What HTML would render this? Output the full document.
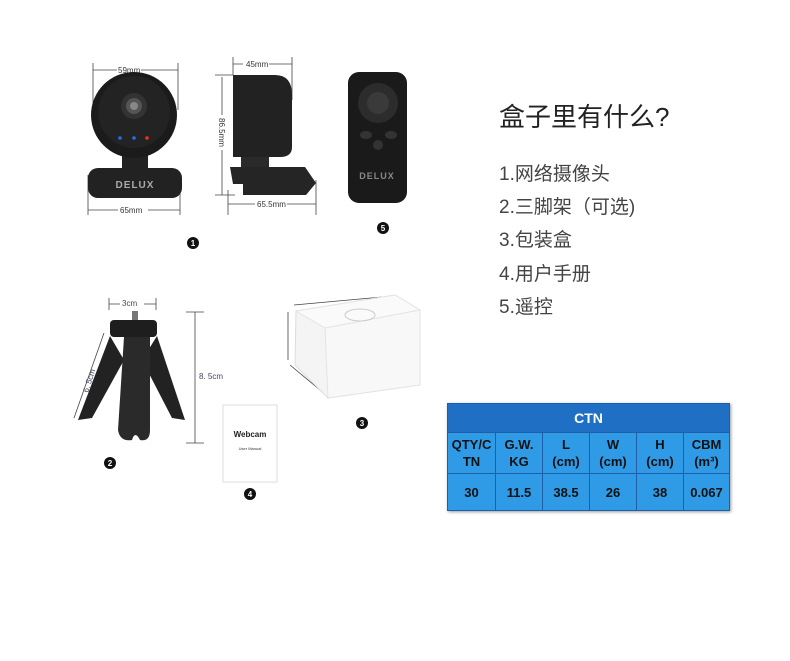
<!DOCTYPE html>
<html><head><meta charset="utf-8"><style>
body{margin:0;width:790px;height:661px;background:#fff;position:relative;overflow:hidden;font-family:"Liberation Sans","Noto Sans CJK SC",sans-serif}
.t{position:absolute;color:#333;font-family:"Liberation Sans","Noto Sans CJK SC",sans-serif}
table{position:absolute;left:447px;top:403px;width:283px;height:105px;border-collapse:collapse;font-family:"Liberation Sans",sans-serif;font-weight:bold;color:#111;font-size:13px;text-align:center;box-shadow:1px 1px 3px #999}
td{border:1px solid #1e5fa8;background:#2f9be6;padding:0;line-height:17px}
th{background:#1f6fc4;color:#fff;height:26px;border:1px solid #1e5fa8;font-size:14px}
</style></head><body>
<svg width="790" height="661" style="position:absolute;left:0;top:0" font-family="Liberation Sans,sans-serif">
<g stroke="#444" stroke-width="0.8" fill="none">
<line x1="93" y1="70" x2="178" y2="70"/><line x1="93" y1="63" x2="93" y2="110"/><line x1="178" y1="63" x2="178" y2="110"/>
<line x1="88" y1="210" x2="180" y2="210"/><line x1="88" y1="175" x2="88" y2="215"/><line x1="180" y1="175" x2="180" y2="215"/>
<line x1="233" y1="64" x2="292" y2="64"/><line x1="233" y1="57" x2="233" y2="75"/><line x1="292" y1="57" x2="292" y2="100"/>
<line x1="222" y1="77" x2="222" y2="195"/><line x1="215" y1="75" x2="233" y2="75"/><line x1="215" y1="195" x2="235" y2="195"/>
<line x1="228" y1="204" x2="316" y2="204"/><line x1="228" y1="190" x2="228" y2="215"/><line x1="316" y1="180" x2="316" y2="215"/>
<line x1="109" y1="304" x2="156" y2="304"/><line x1="109" y1="298" x2="109" y2="310"/><line x1="156" y1="298" x2="156" y2="310"/>
<line x1="195" y1="312" x2="195" y2="443"/><line x1="186" y1="312" x2="204" y2="312"/><line x1="186" y1="443" x2="204" y2="443"/>
<line x1="104" y1="333" x2="74" y2="418"/>
<line x1="294" y1="305" x2="393" y2="296"/><line x1="288" y1="312" x2="288" y2="360"/><line x1="290" y1="365" x2="326" y2="395"/>
</g>
<g fill="#fff"><rect x="117" y="65" width="24" height="10"/><rect x="243" y="59" width="26" height="10"/><rect x="118" y="205" width="30" height="10"/><rect x="255" y="199" width="32" height="10"/><rect x="120" y="299" width="24" height="10"/><rect x="214" y="115" width="16" height="35"/></g>
<g font-size="8" fill="#333"><text x="118" y="73">59mm</text><text x="246" y="67">45mm</text><text x="120" y="213">65mm</text><text x="257" y="207">65.5mm</text><text x="122" y="306" fill="#446">3cm</text><text x="199" y="379" fill="#446">8. 5cm</text>
<text x="0" y="0" transform="translate(219,118) rotate(90)">86.5mm</text><text x="0" y="0" transform="translate(88,393) rotate(-72)" fill="#446">6. 5cm</text></g>
<!-- webcam front -->
<rect x="122" y="150" width="26" height="22" fill="#222"/>
<circle cx="134" cy="115" r="43" fill="#1b1b1b"/><circle cx="134" cy="112" r="36" fill="#232323"/>
<circle cx="134" cy="106" r="13" fill="#333"/><circle cx="134" cy="106" r="8" fill="#555"/><circle cx="134" cy="106" r="4" fill="#888"/>
<circle cx="120" cy="138" r="1.8" fill="#2a6cf0"/><circle cx="134" cy="138" r="1.8" fill="#2a6cf0"/><circle cx="147" cy="138" r="1.8" fill="#f03020"/>
<rect x="88" y="168" width="94" height="30" rx="10" fill="#222"/><text x="135" y="188" font-size="10" fill="#aaa" text-anchor="middle" font-weight="bold" letter-spacing="1">DELUX</text>
<!-- side -->
<path d="M233 75 H275 Q292 75 292 95 V147 Q292 157 280 157 H233 Z" fill="#222"/>
<rect x="241" y="157" width="28" height="10" fill="#2a2a2a"/>
<path d="M230 167 H305 L316 183 L306 195 H243 V184 H233 Z" fill="#252525"/>
<!-- remote -->
<rect x="348" y="72" width="59" height="131" rx="11" fill="#1a1a1a"/>
<circle cx="378" cy="103" r="20" fill="#2c2c2c"/><circle cx="378" cy="103" r="11" fill="#3a3a3a"/>
<ellipse cx="366" cy="135" rx="6" ry="4" fill="#333"/><ellipse cx="391" cy="135" rx="6" ry="4" fill="#333"/><circle cx="378" cy="145" r="5" fill="#333"/>
<text x="377" y="179" font-size="9" fill="#888" text-anchor="middle" font-weight="bold" letter-spacing="1">DELUX</text>
<!-- tripod -->
<rect x="132" y="311" width="6" height="10" fill="#777"/>
<rect x="110" y="320" width="47" height="17" rx="4" fill="#1e1e1e"/>
<path d="M110 336 L78 420 L92 418 L124 360 Z" fill="#222"/>
<path d="M157 336 L185 420 L172 418 L142 360 Z" fill="#222"/>
<path d="M124 337 H150 V430 Q150 442 140 440 Q135 430 132 440 Q120 442 118 430 Z" fill="#2a2a2a"/>
<!-- manual -->
<rect x="223" y="405" width="54" height="77" fill="#fff" stroke="#ddd"/>
<text x="250" y="437" font-size="8" font-weight="bold" text-anchor="middle" fill="#222">Webcam</text>
<text x="250" y="450" font-size="4" text-anchor="middle" fill="#333">User Manual</text>
<!-- box -->
<path d="M296 311 L395 295 L420 310 L420 385 L328 398 L295 365 Z" fill="#f4f4f4" stroke="#ddd"/>
<path d="M296 311 L395 295 L420 310 L325 328 Z" fill="#fafafa" stroke="#e4e4e4"/>
<path d="M325 328 L420 310 L420 385 L328 398 Z" fill="#f8f8f8" stroke="#e4e4e4"/>
<ellipse cx="360" cy="315" rx="15" ry="6" fill="none" stroke="#ccc"/>
<g fill="#111"><circle cx="193" cy="243" r="6"/><circle cx="383" cy="228" r="6"/><circle cx="110" cy="463" r="6"/><circle cx="362" cy="423" r="6"/><circle cx="250" cy="494" r="6"/></g>
<g fill="#fff" font-size="8" font-weight="bold" text-anchor="middle"><text x="193" y="246">1</text><text x="383" y="231">5</text><text x="110" y="466">2</text><text x="362" y="426">3</text><text x="250" y="497">4</text></g>
</svg>
<div class="t" style="left:499px;top:97px;font-size:26px;color:#222">盒子里有什么?</div>
<div class="t" style="left:499px;top:158px;font-size:19px;line-height:33.2px;color:#444">1.网络摄像头<br>2.三脚架（可选)<br>3.包装盒<br>4.用户手册<br>5.遥控</div>
<table>
<tr><th colspan="6">CTN</th></tr>
<tr style="height:41px"><td style="width:47px">QTY/C<br>TN</td><td style="width:46px">G.W.<br>KG</td><td style="width:46px">L<br>(cm)</td><td style="width:46px">W<br>(cm)</td><td style="width:46px">H<br>(cm)</td><td>CBM<br>(m³)</td></tr>
<tr style="height:37px"><td>30</td><td>11.5</td><td>38.5</td><td>26</td><td>38</td><td>0.067</td></tr>
</table>
</body></html>
